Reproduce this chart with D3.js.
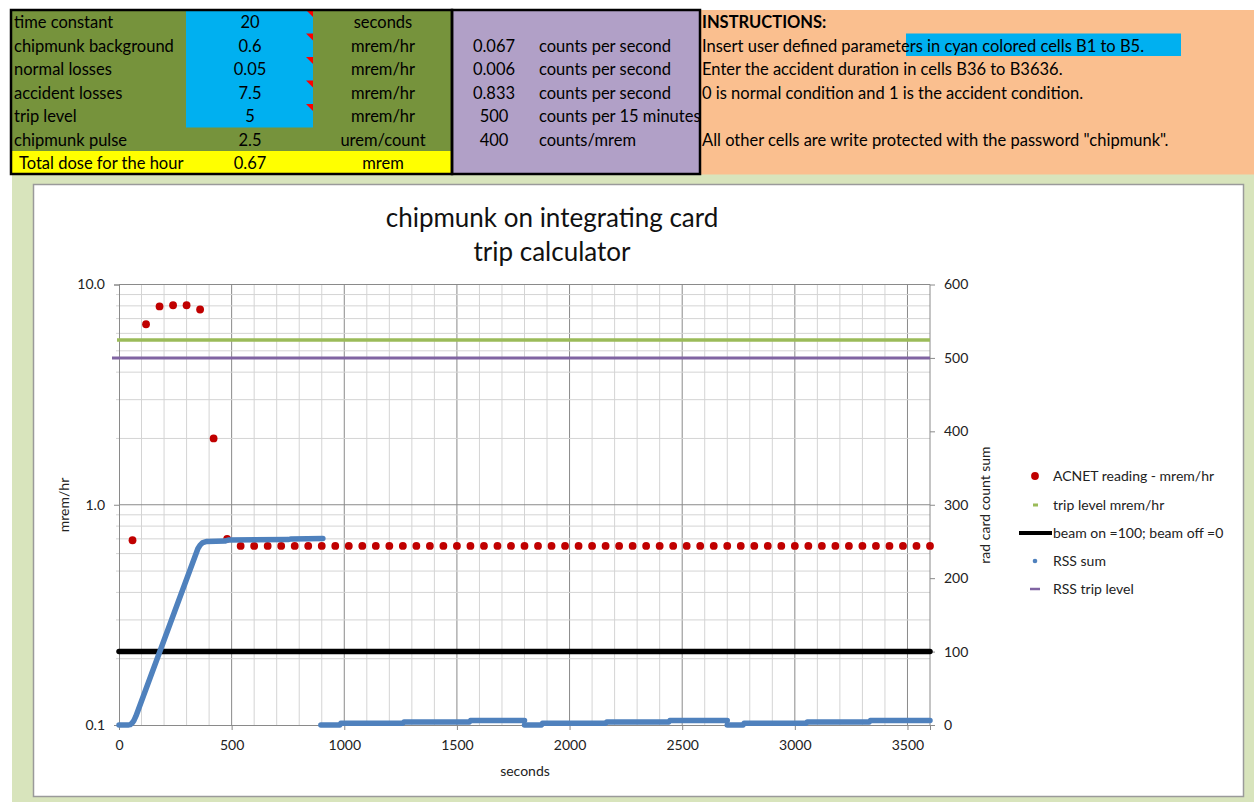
<!DOCTYPE html>
<html>
<head>
<meta charset="utf-8">
<script src="https://cdn.jsdelivr.net/npm/d3@7"></script>
<style>
  body { margin: 0; background: #ffffff; }
  svg { display: block; font-family: Lato, "Open Sans", sans-serif; }
</style>
</head>
<body>
<svg id="chart" width="1254" height="802"></svg>
<script>
// ---------------- DATA ----------------
const paramLabels = ["time constant", "chipmunk background", "normal losses", "accident losses", "trip level", "chipmunk pulse"];
const paramValues = ["20", "0.6", "0.05", "7.5", "5", "2.5"];
const paramUnits  = ["seconds", "mrem/hr", "mrem/hr", "mrem/hr", "mrem/hr", "urem/count"];
const totalRow    = ["Total dose for the hour", "0.67", "mrem"];
const rateValues  = ["", "0.067", "0.006", "0.833", "500", "400"];
const rateUnits   = ["", "counts per second", "counts per second", "counts per second", "counts per 15 minutes", "counts/mrem"];
const instructionLines = [
  "INSTRUCTIONS:",
  "Insert user defined parameters in cyan colored cells B1 to B5.",
  "Enter the accident duration in cells B36 to B3636.",
  "0 is normal condition and 1 is the accident condition.",
  "",
  "All other cells are write protected with the password \"chipmunk\"."
];

const chartTitle = ["chipmunk on integrating card", "trip calculator"];
const xTicks = [0, 500, 1000, 1500, 2000, 2500, 3000, 3500];
const leftTicks = [0.1, 1, 10];
const rightTicks = [0, 100, 200, 300, 400, 500, 600];

// ACNET reading (mrem/hr), one reading every 60 s from 60 s to 3600 s
const acnetSeconds = [60,120,180,240,300,360,420,480,540,600,660,720,780,840,900,960,1020,1080,1140,1200,
  1260,1320,1380,1440,1500,1560,1620,1680,1740,1800,1860,1920,1980,2040,2100,2160,2220,2280,2340,2400,
  2460,2520,2580,2640,2700,2760,2820,2880,2940,3000,3060,3120,3180,3240,3300,3360,3420,3480,3540,3600];
const acnetValues = [0.69,6.6,7.95,8.05,8.05,7.7,2.0,0.70,0.65,0.65,0.65,0.65,0.65,0.65,0.65,0.65,0.65,0.65,0.65,0.65,
  0.65,0.65,0.65,0.65,0.65,0.65,0.65,0.65,0.65,0.65,0.65,0.65,0.65,0.65,0.65,0.65,0.65,0.65,0.65,0.65,
  0.65,0.65,0.65,0.65,0.65,0.65,0.65,0.65,0.65,0.65,0.65,0.65,0.65,0.65,0.65,0.65,0.65,0.65,0.65,0.65];

const tripLevelMremHr = 5.6;      // left axis
const beamOnLevel = 100;          // right axis
const rssTripLevel = 500;         // right axis
const timeSpan = [0, 3600];

// RSS sum (right axis), one run per 15-minute cycle
const rssCycle1 = [[0,0],[40,0],[50,0.5],[58,2.5],[66,6],[75,12],[350,240],[360,245],[372,248.5],[390,250],[470,250.5],[485,252],[750,252.5],[765,253.5],[905,254]];
const rssCycle2 = [[896,0],[980,0],[985,2.5],[1260,2.5],[1265,4],[1555,4],[1560,6],[1800,6]];
const rssCycle3 = [[1800,0],[1875,0],[1880,2.5],[2160,2.5],[2165,4],[2440,4],[2445,6],[2700,6]];
const rssCycle4 = [[2700,0],[2770,0],[2775,2.5],[3050,2.5],[3055,4],[3330,4],[3335,6],[3600,6]];

const legendItems = ["ACNET reading - mrem/hr", "trip level mrem/hr", "beam on =100; beam off =0", "RSS sum", "RSS trip level"];

// ---------------- DRAW ----------------
const svg = d3.select("#chart");
const C = {
  green: "#76933c", cyan: "#00b0f0", yellow: "#ffff00", purple: "#b1a0c7",
  orange: "#fabf8f", page: "#d8e4bc", red: "#c00000", blue: "#4f81bd",
  tripGreen: "#9bbb59", tripPurple: "#8064a2"
};

// page background below table
svg.append("rect").attr("x", 12).attr("y", 174).attr("width", 1242).attr("height", 628).attr("fill", C.page);

// ---- table ----
const rowTop = 10, rowH = 23.5;
const tbl = svg.append("g");
tbl.append("rect").attr("x", 11).attr("y", rowTop).attr("width", 441).attr("height", rowH * 6).attr("fill", C.green);
tbl.append("rect").attr("x", 186).attr("y", rowTop).attr("width", 127).attr("height", rowH * 5).attr("fill", C.cyan);
tbl.append("rect").attr("x", 11).attr("y", rowTop + rowH * 6).attr("width", 441).attr("height", rowH + 0.5).attr("fill", C.yellow);
tbl.append("rect").attr("x", 452).attr("y", rowTop).attr("width", 248).attr("height", 164.5).attr("fill", C.purple);
tbl.append("rect").attr("x", 700).attr("y", rowTop).attr("width", 554).attr("height", 164.5).attr("fill", C.orange);
// red comment markers
paramValues.slice(0, 5).forEach((d, i) => {
  const t = rowTop + i * rowH;
  tbl.append("path").attr("d", `M306,${t}L313,${t}L313,${t + 7}Z`).attr("fill", "#ff0000");
});
// cyan highlight in instructions
tbl.append("rect").attr("x", 906).attr("y", rowTop + rowH).attr("width", 275).attr("height", rowH - 1).attr("fill", C.cyan);
// borders
tbl.append("rect").attr("x", 11).attr("y", 10).attr("width", 441).attr("height", 164).attr("fill", "none").attr("stroke", "#000").attr("stroke-width", 2.5);
tbl.append("rect").attr("x", 452).attr("y", 10).attr("width", 248).attr("height", 164).attr("fill", "none").attr("stroke", "#000").attr("stroke-width", 2.5);

const tfs = 16.5;
const rowY = i => rowTop + i * rowH + rowH / 2 + 6.5;
paramLabels.forEach((d, i) => {
  tbl.append("text").attr("x", 14).attr("y", rowY(i)).attr("font-size", tfs).attr("fill", "#000").text(d);
  tbl.append("text").attr("x", 250).attr("y", rowY(i)).attr("font-size", tfs).attr("text-anchor", "middle").text(paramValues[i]);
  tbl.append("text").attr("x", 383).attr("y", rowY(i)).attr("font-size", tfs).attr("text-anchor", "middle").text(paramUnits[i]);
});
tbl.append("text").attr("x", 19).attr("y", rowY(6)).attr("font-size", tfs).text(totalRow[0]);
tbl.append("text").attr("x", 250).attr("y", rowY(6)).attr("font-size", tfs).attr("text-anchor", "middle").text(totalRow[1]);
tbl.append("text").attr("x", 383).attr("y", rowY(6)).attr("font-size", tfs).attr("text-anchor", "middle").text(totalRow[2]);
rateValues.forEach((d, i) => {
  if (!d) return;
  tbl.append("text").attr("x", 494).attr("y", rowY(i)).attr("font-size", tfs).attr("text-anchor", "middle").text(d);
  tbl.append("text").attr("x", 539).attr("y", rowY(i)).attr("font-size", tfs).text(rateUnits[i]);
});
instructionLines.forEach((d, i) => {
  if (!d) return;
  tbl.append("text").attr("x", 702).attr("y", rowY(i)).attr("font-size", tfs)
    .attr("font-weight", i === 0 ? "bold" : "normal").text(d);
});

// ---- chart box ----
svg.append("rect").attr("x", 33.5).attr("y", 184.5).attr("width", 1210).attr("height", 612)
  .attr("fill", "#fff").attr("stroke", "#9a9a9a").attr("stroke-width", 1.5);

const x = d3.scaleLinear().domain(timeSpan).range([119, 930]);
const yL = d3.scaleLog().domain([0.1, 10]).range([725, 284.5]);
const yR = d3.scaleLinear().domain([0, 600]).range([725, 284.5]);

const grid = svg.append("g");
// vertical grid every 100 s
d3.range(100, 3600, 100).forEach(t => {
  grid.append("line").attr("x1", x(t)).attr("x2", x(t)).attr("y1", yL(10)).attr("y2", yL(0.1))
    .attr("stroke", t % 500 === 0 ? "#8a8a8a" : "#d4d4d4").attr("stroke-width", 1);
});
// horizontal log grid
const minorVals = [];
[0.1, 1].forEach(b => { for (let k = 2; k <= 9; k++) minorVals.push(+(b * k).toFixed(2)); });
minorVals.forEach(v => {
  grid.append("line").attr("x1", x(0) - 3).attr("x2", x(3600)).attr("y1", yL(v)).attr("y2", yL(v))
    .attr("stroke", "#d4d4d4").attr("stroke-width", 1);
});
[1, 10].forEach(v => {
  grid.append("line").attr("x1", x(0)).attr("x2", x(3600)).attr("y1", yL(v)).attr("y2", yL(v))
    .attr("stroke", "#8a8a8a").attr("stroke-width", 1);
});

// axes
const axFont = 14;
const gL = svg.append("g").attr("transform", `translate(${x(0)},0)`)
  .call(d3.axisLeft(yL).tickValues(leftTicks).tickFormat(d3.format(".1f")).tickSize(5).tickPadding(9));
const gR = svg.append("g").attr("transform", `translate(${x(3600)},0)`)
  .call(d3.axisRight(yR).tickValues(rightTicks).tickFormat(d3.format("d")).tickSize(5).tickPadding(9));
const gB = svg.append("g").attr("transform", `translate(0,${yL(0.1)})`)
  .call(d3.axisBottom(x).tickValues(xTicks).tickFormat(d3.format("d")).tickSize(5).tickPadding(10));
[gL, gR, gB].forEach(g => {
  g.select(".domain").attr("stroke", "#8a8a8a");
  g.selectAll(".tick line").attr("stroke", "#8a8a8a");
  g.selectAll("text").attr("font-size", axFont).attr("fill", "#222").attr("font-family", "Lato, sans-serif");
});
gR.select(".domain").attr("d", `M0,${yR(0)}V${yR(600)}`);

// titles
svg.append("text").attr("x", 552).attr("y", 227).attr("text-anchor", "middle").attr("font-size", 26).attr("fill", "#111").text(chartTitle[0]);
svg.append("text").attr("x", 552).attr("y", 261).attr("text-anchor", "middle").attr("font-size", 26).attr("fill", "#111").text(chartTitle[1]);
svg.append("text").attr("transform", "translate(69,505) rotate(-90)").attr("text-anchor", "middle").attr("font-size", 14).attr("fill", "#222").text("mrem/hr");
svg.append("text").attr("transform", "translate(990,505) rotate(-90)").attr("text-anchor", "middle").attr("font-size", 14).attr("fill", "#222").text("rad card count sum");
svg.append("text").attr("x", 525).attr("y", 776).attr("text-anchor", "middle").attr("font-size", 14).attr("fill", "#222").text("seconds");

// series
const series = svg.append("g");
// red ACNET dots
series.selectAll("circle.acnet").data(acnetSeconds).enter().append("circle")
  .attr("cx", d => x(d)).attr("cy", (d, i) => yL(acnetValues[i])).attr("r", 3.9).attr("fill", C.red);
// trip level (left axis)
series.append("line").attr("x1", x(0) - 2).attr("x2", x(3600)).attr("y1", yL(tripLevelMremHr)).attr("y2", yL(tripLevelMremHr))
  .attr("stroke", C.tripGreen).attr("stroke-width", 3.5);
// beam on
series.append("line").attr("x1", x(0)).attr("x2", x(3600)).attr("y1", yR(beamOnLevel)).attr("y2", yR(beamOnLevel))
  .attr("stroke", "#000").attr("stroke-width", 5.5).attr("stroke-linecap", "round");
// RSS sum
const rssLine = d3.line().x(d => x(d[0])).y(d => yR(d[1]));
[rssCycle1, rssCycle2, rssCycle3, rssCycle4].forEach(c => {
  series.append("path").attr("d", rssLine(c)).attr("fill", "none").attr("stroke", C.blue)
    .attr("stroke-width", 5.5).attr("stroke-linecap", "round").attr("stroke-linejoin", "round");
});
// RSS trip level
series.append("line").attr("x1", x(0) - 7).attr("x2", x(3600)).attr("y1", yR(rssTripLevel)).attr("y2", yR(rssTripLevel))
  .attr("stroke", C.tripPurple).attr("stroke-width", 3);

// legend
const lg = svg.append("g");
const lgY = [476, 505, 533, 561, 589];
legendItems.forEach((d, i) => {
  lg.append("text").attr("x", 1053).attr("y", lgY[i] + 5).attr("font-size", 14).attr("fill", "#222").text(d);
});
lg.append("circle").attr("cx", 1035).attr("cy", lgY[0]).attr("r", 3.9).attr("fill", C.red);
lg.append("rect").attr("x", 1033).attr("y", lgY[1] - 1.5).attr("width", 5).attr("height", 3).attr("fill", C.tripGreen);
lg.append("line").attr("x1", 1019).attr("x2", 1052).attr("y1", lgY[2]).attr("y2", lgY[2]).attr("stroke", "#000").attr("stroke-width", 4);
lg.append("circle").attr("cx", 1035).attr("cy", lgY[3]).attr("r", 2.3).attr("fill", C.blue);
lg.append("line").attr("x1", 1030).attr("x2", 1040).attr("y1", lgY[4]).attr("y2", lgY[4]).attr("stroke", C.tripPurple).attr("stroke-width", 2.5);
</script>
</body>
</html>
